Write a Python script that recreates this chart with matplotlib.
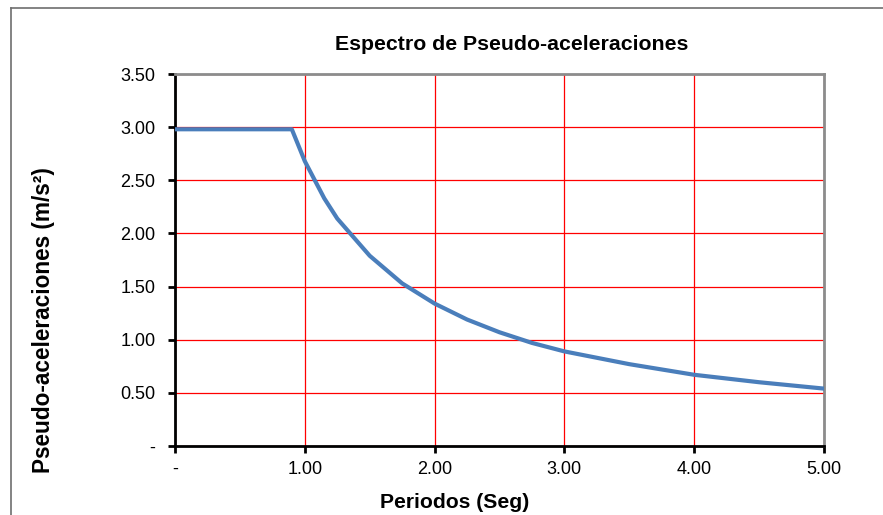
import matplotlib
matplotlib.use("Agg")
import matplotlib.pyplot as plt
from matplotlib.lines import Line2D

periods = [0.0, 0.1, 0.2, 0.3, 0.4, 0.5, 0.6, 0.7, 0.8, 0.9, 1.0, 1.15, 1.25, 1.5, 1.75,
           2.0, 2.25, 2.5, 2.75, 3.0, 3.5, 4.0, 4.5, 5.0]
sa = [2.98, 2.98, 2.98, 2.98, 2.98, 2.98, 2.98, 2.98, 2.98, 2.98, 2.68, 2.33, 2.14, 1.79, 1.53,
      1.34, 1.19, 1.07, 0.97, 0.89, 0.77, 0.67, 0.60, 0.54]

x_ticks = [0, 1, 2, 3, 4, 5]
x_labels = ["-", "1.00", "2.00", "3.00", "4.00", "5.00"]
y_ticks = [0, 0.5, 1.0, 1.5, 2.0, 2.5, 3.0, 3.5]
y_labels = ["-", "0.50", "1.00", "1.50", "2.00", "2.50", "3.00", "3.50"]

plt.rcParams['font.family'] = ['Liberation Sans', 'DejaVu Sans']

W, H = 883, 515
fig = plt.figure(figsize=(W / 100, H / 100), dpi=100)
ax = fig.add_axes([175/W, 1 - 446/H, (824 - 175)/W, (446 - 74)/H])

ax.plot(periods, sa, color='#4A7EBB', linewidth=3, solid_joinstyle='round', zorder=3)

ax.set_xlim(0, 5)
ax.set_ylim(0, 3.5)
ax.set_xticks(x_ticks)
ax.set_xticklabels(x_labels)
ax.set_yticks(y_ticks)
ax.set_yticklabels(y_labels)
ax.grid(True, color='#FF0000', linewidth=0.9)
ax.set_axisbelow(True)

for s in ['left', 'bottom']:
    ax.spines[s].set_color('black')
    ax.spines[s].set_linewidth(2)
for s in ['top', 'right']:
    ax.spines[s].set_color('#8C8C8C')
    ax.spines[s].set_linewidth(2)

ax.tick_params(axis='both', direction='out', length=5, width=2, color='black',
               labelsize=13, pad=9)
ax.tick_params(axis='x', pad=6)

fig.text(512/W, 1 - 45/H, "Espectro de Pseudo-aceleraciones", fontsize=15.3,
         fontweight='bold', ha='center', va='center')
fig.text(455/W, 1 - 503/H, "Periodos (Seg)", fontsize=15.2,
         fontweight='bold', ha='center', va='center')
fig.text(44/W, 1 - 320/H, "Pseudo-aceleraciones (m/s²)", fontsize=16.3,
         fontweight='bold', ha='center', va='center', rotation=90)

# outer chart border (top and left visible)
fig.add_artist(Line2D([11/W, 11/W], [0, 1 - 8/H], transform=fig.transFigure,
                      color='#6E6E6E', linewidth=1.2))
fig.add_artist(Line2D([11/W, 1], [1 - 8/H, 1 - 8/H], transform=fig.transFigure,
                      color='#6E6E6E', linewidth=1.2))

fig.savefig("out.png", dpi=100)
